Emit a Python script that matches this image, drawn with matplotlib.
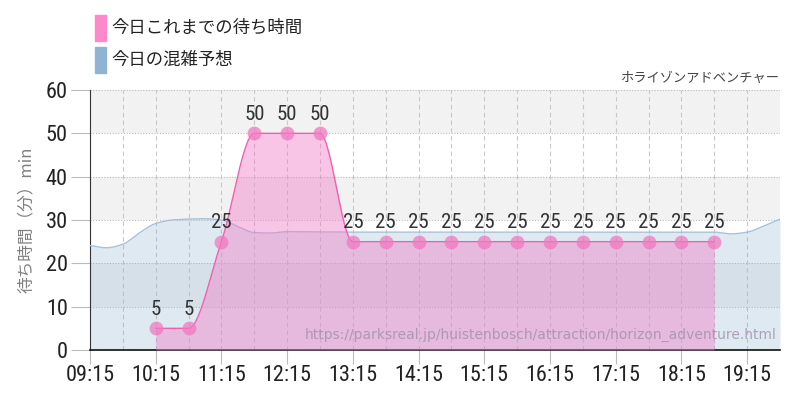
import numpy as np
import matplotlib
matplotlib.use('Agg')
import matplotlib.pyplot as plt
from matplotlib import font_manager

# --- data ---
wait_times = ['10:15', '10:45', '11:15', '11:45', '12:15', '12:45', '13:15', '13:45', '14:15',
              '14:45', '15:15', '15:45', '16:15', '16:45', '17:15', '17:45', '18:15', '18:45']
wait_values = [5, 5, 25, 50, 50, 50, 25, 25, 25, 25, 25, 25, 25, 25, 25, 25, 25, 25]

forecast_times = ['09:15', '09:30', '09:45', '10:00', '10:15', '10:30', '10:45', '11:00', '11:15',
                  '11:30', '11:45', '12:00', '12:15', '13:15', '14:15', '15:15', '16:15', '17:15',
                  '18:15', '18:45', '19:00', '19:15', '19:30', '19:45']
forecast_values = [24.1, 23.6, 24.4, 27.0, 29.2, 30.0, 30.2, 30.3, 30.0,
                   28.5, 27.1, 27.0, 27.3, 27.2, 27.2, 27.2, 27.2, 27.2,
                   27.2, 27.2, 26.8, 27.2, 28.6, 30.2]

xtick_labels = ['09:15', '10:15', '11:15', '12:15', '13:15', '14:15', '15:15',
                '16:15', '17:15', '18:15', '19:15']

legend_wait = '今日これまでの待ち時間'
legend_forecast = '今日の混雑予想'
title = 'ホライゾンアドベンチャー'
ylabel = '待ち時間（分）min'
url = 'https://parksreal.jp/huistenbosch/attraction/horizon_adventure.html'


def to_h(t):
    h, m = t.split(':')
    return int(h) + int(m) / 60.0


def pchip(x, y, n=30):
    # monotone cubic, only used to draw a smooth line through the points
    x = np.asarray(x, float)
    y = np.asarray(y, float)
    h = np.diff(x)
    d = np.diff(y) / h
    m = np.zeros_like(y)
    m[0], m[-1] = d[0], d[-1]
    for i in range(1, len(y) - 1):
        if d[i - 1] * d[i] > 0:
            w1 = 2 * h[i] + h[i - 1]
            w2 = h[i] + 2 * h[i - 1]
            m[i] = (w1 + w2) / (w1 / d[i - 1] + w2 / d[i])
    xs, ys = [], []
    for i in range(len(h)):
        t = np.linspace(0, 1, n, endpoint=(i == len(h) - 1))
        h00 = 2 * t**3 - 3 * t**2 + 1
        h10 = t**3 - 2 * t**2 + t
        h01 = -2 * t**3 + 3 * t**2
        h11 = t**3 - t**2
        xs.append(x[i] + t * h[i])
        ys.append(h00 * y[i] + h10 * h[i] * m[i] + h01 * y[i + 1] + h11 * h[i] * m[i + 1])
    return np.concatenate(xs), np.concatenate(ys)


names = set(f.name for f in font_manager.fontManager.ttflist)
narrow = 'Roboto'
for cand in ['Roboto Condensed', 'Liberation Sans Narrow', 'DejaVu Sans Condensed']:
    if cand in names:
        narrow = cand
        break

plt.rcParams['font.family'] = ['Noto Sans CJK JP', 'DejaVu Sans']

wx = [to_h(t) for t in wait_times]
fx = [to_h(t) for t in forecast_times]

fig = plt.figure(figsize=(8, 4), dpi=100)
ax = fig.add_axes([0.1125, 0.125, 0.8625, 0.65])

x0, x1 = to_h('09:15'), to_h('19:45')
ax.set_xlim(x0, x1)
ax.set_ylim(0, 60)

# background bands
for lo in [10, 30, 50]:
    ax.axhspan(lo, lo + 10, color='#f2f2f2', zorder=0, lw=0)

# grid
for v in range(10, 61, 10):
    ax.axhline(v, color='#bbbbbb', lw=0.8, ls=(0, (1, 1.5)), zorder=1)
t = x0 + 0.5
while t < x1:
    ax.axvline(t, color='#c8c8c8', lw=0.8, ls=(0, (4, 3)), zorder=1)
    t += 0.5

# forecast area
sx, sy = pchip(fx, forecast_values)
ax.fill_between(sx, 0, sy, color='#8fb3d3', alpha=0.28, lw=0, zorder=2)
ax.plot(sx, sy, color='#a9c1d8', lw=1, zorder=3)

# wait time area
px, py = pchip(wx, wait_values)
ax.fill_between(px, 0, py, color='#f080c8', alpha=0.45, lw=0, zorder=4)
ax.plot(px, py, color='#f060b0', lw=1, zorder=5)
ax.plot(wx, wait_values, 'o', color='#f07ac0', ms=10, mec='none', alpha=0.75, zorder=6)

for x, v in zip(wx, wait_values):
    ax.annotate(str(v), (x, v), xytext=(0, 7), textcoords='offset points', ha='center',
                va='bottom', fontsize=15, color='#333333', family=narrow, zorder=7)

ax.text(0.995, 0.03, url, transform=ax.transAxes, ha='right', va='bottom',
        fontsize=10, color='#a090a8', alpha=0.8, family='DejaVu Sans', zorder=8)

# axes
ax.set_xticks([to_h(s) for s in xtick_labels])
ax.set_xticklabels(xtick_labels, family=narrow, fontsize=16, color='#222222')
ax.set_yticks(range(0, 61, 10))
ax.set_yticklabels([str(v) for v in range(0, 61, 10)], family=narrow, fontsize=16, color='#222222')
ax.tick_params(axis='x', length=10, color='#bbbbbb', pad=1)
ax.tick_params(axis='y', length=14, color='#bbbbbb', pad=2)
for s in ['top', 'right']:
    ax.spines[s].set_visible(False)
ax.spines['left'].set_color('#333333')
ax.spines['bottom'].set_color('#111111')
ax.spines['bottom'].set_linewidth(1.2)

ax.set_ylabel(ylabel, fontsize=12, color='#808080', labelpad=8)

# legend and title
fig.patches.append(plt.Rectangle((95 / 800, 1 - 41 / 400), 11 / 800, 26 / 400,
                                 transform=fig.transFigure, color='#ff88cc'))
fig.patches.append(plt.Rectangle((95 / 800, 1 - 73 / 400), 11 / 800, 26 / 400,
                                 transform=fig.transFigure, color='#8fb3d3'))
fig.text(111 / 800, 1 - 28 / 400, legend_wait, fontsize=12.5, va='center', color='#222222')
fig.text(111 / 800, 1 - 60 / 400, legend_forecast, fontsize=12.5, va='center', color='#222222')
fig.text(780 / 800, 1 - 78 / 400, title, fontsize=9.5, ha='right', va='center', color='#444444')

fig.savefig('out.png', dpi=100)
